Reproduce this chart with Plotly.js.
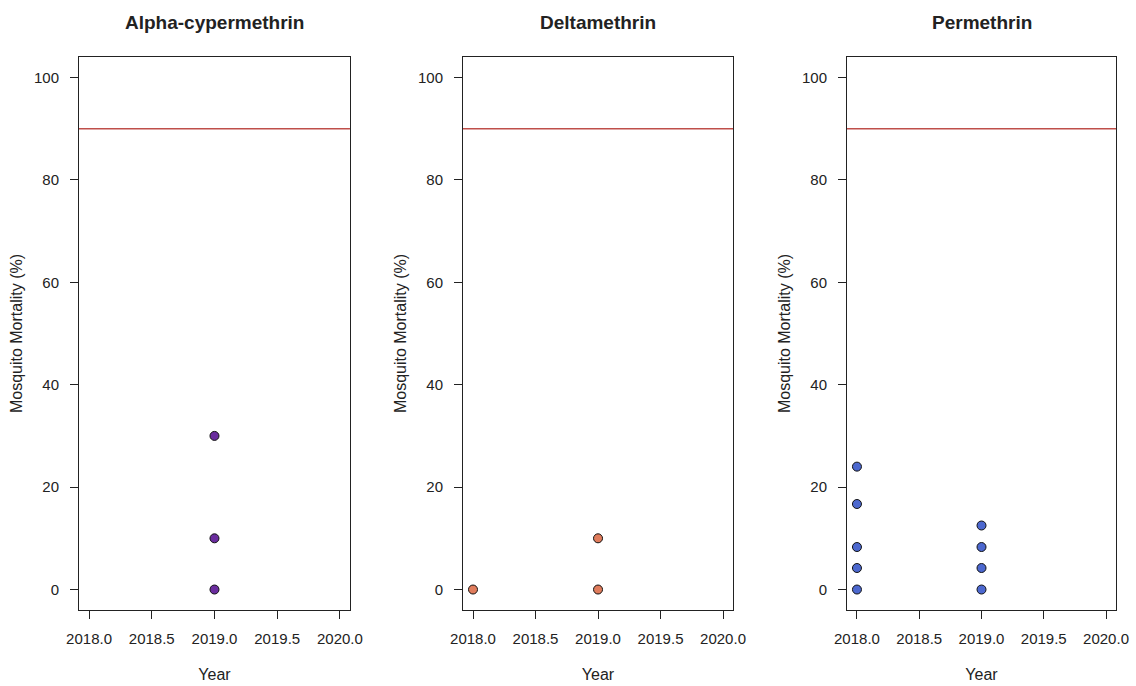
<!DOCTYPE html>
<html>
<head>
<meta charset="utf-8">
<script src="https://cdn.plot.ly/plotly-3.0.1.min.js"></script>
<style>html,body{margin:0;padding:0;background:#fff;}#chart{width:1136px;height:686px;}</style>
</head>
<body>
<div id="chart"></div>
<script>
// Data
const panelTitles = ["Alpha-cypermethrin", "Deltamethrin", "Permethrin"];
const alphaYears = [2019, 2019, 2019];
const alphaMortality = [30, 10, 0];
const deltaYears = [2018, 2019, 2019];
const deltaMortality = [0, 10, 0];
const permYears = [2018, 2018, 2018, 2018, 2018, 2019, 2019, 2019, 2019];
const permMortality = [24, 16.7, 8.3, 4.2, 0, 12.5, 8.3, 4.2, 0];
const thresholdValue = 90;
const xTickVals = [2018.0, 2018.5, 2019.0, 2019.5, 2020.0];
const yTickVals = [0, 20, 40, 60, 80, 100];
const xAxisLabel = "Year";
const yAxisLabel = "Mosquito Mortality (%)";

const colors = ["#6a2c9e", "#e07c5c", "#4c68cf"];
const seriesX = [alphaYears, deltaYears, permYears];
const seriesY = [alphaMortality, deltaMortality, permMortality];

const FONT = "Liberation Sans, Arial, sans-serif";
const domains = [[0, 0.2613], [0.3703, 0.6307], [0.7406, 1]];

const traces = seriesX.map((xs, i) => ({
  type: "scatter",
  mode: "markers",
  x: xs,
  y: seriesY[i],
  xaxis: i === 0 ? "x" : "x" + (i + 1),
  yaxis: i === 0 ? "y" : "y" + (i + 1),
  marker: {size: 9, color: colors[i], line: {color: "#111", width: 1}},
  showlegend: false,
  hoverinfo: "x+y"
}));

const layout = {
  width: 1136,
  height: 686,
  margin: {l: 79, r: 20, t: 57, b: 76},
  paper_bgcolor: "#fff",
  plot_bgcolor: "#fff",
  font: {family: FONT, color: "#222", size: 15},
  showlegend: false,
  shapes: [],
  annotations: []
};

for (let i = 0; i < 3; i++) {
  const sx = i === 0 ? "" : String(i + 1);
  layout["xaxis" + sx] = {
    domain: domains[i],
    anchor: "y" + sx,
    range: [2017.92, 2020.08],
    tickmode: "array",
    tickvals: xTickVals,
    ticktext: xTickVals.map(v => v.toFixed(1)),
    ticks: "outside",
    ticklen: 8,
    tickwidth: 1,
    tickcolor: "#222",
    ticklabelstandoff: 7,
    showgrid: false,
    zeroline: false,
    showline: true,
    mirror: true,
    linecolor: "#222",
    linewidth: 1,
    tickfont: {size: 15, family: FONT, color: "#222"},
    title: {text: xAxisLabel, font: {size: 16, family: FONT, color: "#222"}, standoff: 22}
  };
  layout["yaxis" + sx] = {
    domain: [0, 1],
    anchor: "x" + sx,
    range: [-4, 104],
    tickmode: "array",
    tickvals: yTickVals,
    ticks: "outside",
    ticklen: 8,
    tickwidth: 1,
    tickcolor: "#222",
    ticklabelstandoff: 8,
    showgrid: false,
    zeroline: false,
    showline: true,
    mirror: true,
    linecolor: "#222",
    linewidth: 1,
    tickfont: {size: 15, family: FONT, color: "#222"},
    title: {text: yAxisLabel, font: {size: 16, family: FONT, color: "#222"}, standoff: 7}
  };
  layout.shapes.push({
    type: "line",
    xref: "x" + sx + " domain",
    yref: "y" + sx,
    x0: 0, x1: 1,
    y0: thresholdValue, y1: thresholdValue,
    line: {color: "#bf4f4a", width: 1.5}
  });
  layout.annotations.push({
    text: "<b>" + panelTitles[i] + "</b>",
    xref: "paper",
    yref: "paper",
    x: (domains[i][0] + domains[i][1]) / 2,
    y: 1,
    yshift: 35,
    xanchor: "center",
    yanchor: "middle",
    showarrow: false,
    font: {size: 19, family: FONT, color: "#222"}
  });
}

Plotly.newPlot("chart", traces, layout, {displayModeBar: false, staticPlot: false});
</script>
</body>
</html>
